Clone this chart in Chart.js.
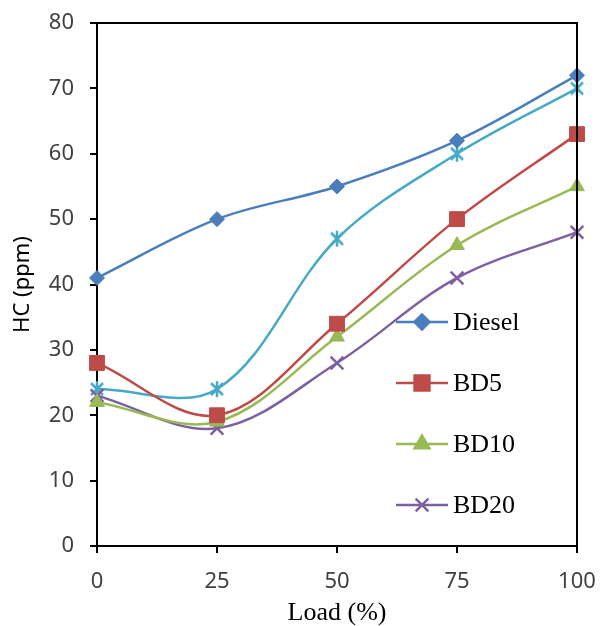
<!DOCTYPE html>
<html>
<head>
<meta charset="utf-8">
<script src="https://cdn.jsdelivr.net/npm/chart.js@4.4.1/dist/chart.umd.min.js"></script>
<style>
  html, body { margin: 0; padding: 0; background: #fff; }
  #wrap { width: 601px; height: 626px; }
</style>
</head>
<body>
<div id="wrap"><canvas id="chart"></canvas></div>
<script>
const loads = [0, 25, 50, 75, 100];
const diesel = [41, 50, 55, 62, 72];
const bd5 = [28, 20, 34, 50, 63];
const bd10 = [22, 19, 32, 46, 55];
const bd20 = [23, 18, 28, 41, 48];
const extra = [24, 24, 47, 60, 70];
const yTicks = [0, 10, 20, 30, 40, 50, 60, 70, 80];

// excel-like "star" marker: an x with a vertical bar
function starMarker(color) {
  const c = document.createElement("canvas");
  c.width = 18;
  c.height = 18;
  const g = c.getContext("2d");
  g.strokeStyle = color;
  g.lineWidth = 2.5;
  g.beginPath();
  g.moveTo(3, 3); g.lineTo(15, 15);
  g.moveTo(15, 3); g.lineTo(3, 15);
  g.moveTo(9, 1); g.lineTo(9, 17);
  g.stroke();
  return c;
}

function pts(values) {
  return loads.map((x, i) => ({ x: x, y: values[i] }));
}

function series(label, values, color, style, radius, inLegend) {
  return {
    label: label,
    data: pts(values),
    borderColor: color,
    backgroundColor: color,
    pointBackgroundColor: color,
    pointBorderColor: color,
    pointStyle: style,
    pointRadius: radius,
    pointHoverRadius: radius,
    pointBorderWidth: style === "crossRot" ? 2.5 : 1,
    borderWidth: 2.5,
    tension: 0.35,
    clip: false,
    inLegend: inLegend,
  };
}

// legend drawn inside the plot, box lines on top/right
const boxLegend = {
  id: "boxLegend",
  afterDraw(chart) {
    const ctx = chart.ctx;
    const a = chart.chartArea;
    ctx.save();
    ctx.strokeStyle = "#000";
    ctx.lineWidth = 2;
    ctx.beginPath();
    ctx.moveTo(a.left, a.top);
    ctx.lineTo(a.right, a.top);
    ctx.lineTo(a.right, a.bottom);
    ctx.stroke();

    let y = 322;
    chart.data.datasets.forEach((ds) => {
      if (!ds.inLegend) return;
      ctx.strokeStyle = ds.borderColor;
      ctx.lineWidth = 2.5;
      ctx.beginPath();
      ctx.moveTo(396, y);
      ctx.lineTo(448, y);
      ctx.stroke();
      Chart.helpers.drawPoint(ctx, {
        pointStyle: ds.pointStyle,
        radius: ds.pointRadius,
        borderWidth: ds.pointBorderWidth,
        rotation: 0,
      }, 422, y);
      ctx.fillStyle = ds.borderColor;
      ctx.fill();
      ctx.fillStyle = "#000";
      ctx.font = "26px 'Liberation Serif'";
      ctx.textBaseline = "middle";
      ctx.fillText(ds.label, 453, y + 1);
      y += 61;
    });
    ctx.restore();
  },
};

const ctx = document.getElementById("chart");

new Chart(ctx, {
  type: "line",
  data: {
    datasets: [
      series("Diesel", diesel, "#4a7ebb", "rectRot", 7.5, true),
      series("BD5", bd5, "#be4b48", "rect", 10.5, true),
      series("BD10", bd10, "#98b954", "triangle", 8.5, true),
      series("BD20", bd20, "#7d60a0", "crossRot", 9, true),
      series("", extra, "#46aac5", starMarker("#46aac5"), 9, false),
    ],
  },
  options: {
    responsive: true,
    maintainAspectRatio: false,
    animation: false,
    layout: { padding: { top: 23, right: 24, left: 0, bottom: 0 } },
    plugins: {
      legend: { display: false },
      tooltip: { enabled: false },
    },
    scales: {
      x: {
        type: "linear",
        min: 0,
        max: 100,
        afterBuildTicks: (s) => { s.ticks = loads.map((v) => ({ value: v })); },
        afterFit: (s) => {
          s.height = 80;
          s.paddingLeft = 0;
          s.paddingRight = 0;
        },
        grid: { drawOnChartArea: false, drawTicks: true, tickLength: 7, color: "#000", lineWidth: 2 },
        border: { color: "#000", width: 2 },
        ticks: { color: "#404040", padding: 16, maxRotation: 0, font: { family: "'Noto Sans'", size: 22 } },
        title: {
          display: true,
          text: "Load (%)",
          color: "#000",
          padding: { top: 0, bottom: 0 },
          font: { family: "'Liberation Serif'", size: 26, lineHeight: 1 },
        },
      },
      y: {
        min: 0,
        max: 80,
        afterBuildTicks: (s) => { s.ticks = yTicks.map((v) => ({ value: v })); },
        afterFit: (s) => {
          s.width = 97;
          s.paddingTop = 0;
          s.paddingBottom = 0;
        },
        grid: { drawOnChartArea: false, drawTicks: true, tickLength: 7, color: "#000", lineWidth: 2 },
        border: { color: "#000", width: 2 },
        ticks: { color: "#404040", padding: 16, font: { family: "'Noto Sans'", size: 22 } },
        title: {
          display: true,
          text: "HC (ppm)",
          color: "#000",
          padding: { top: 10, bottom: 0 },
          font: { family: "'Noto Sans'", size: 22, lineHeight: 1.2 },
        },
      },
    },
  },
  plugins: [boxLegend],
});
</script>
</body>
</html>
